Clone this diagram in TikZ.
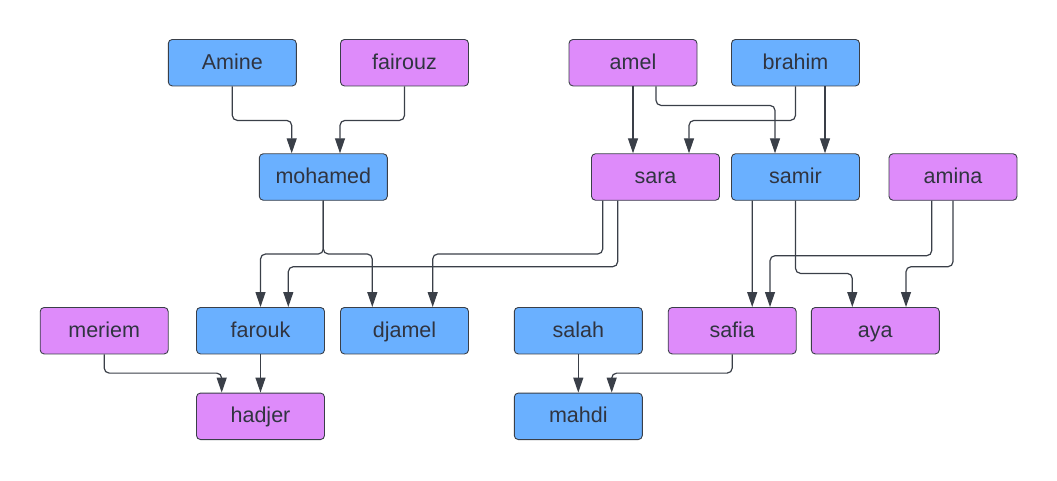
\documentclass[tikz,border=0pt]{standalone}
\usepackage{fontspec}
\setmainfont{Liberation Sans}
\usetikzlibrary{arrows.meta}
\definecolor{boyblue}{RGB}{106,176,255}
\definecolor{girlpink}{RGB}{222,139,250}
\definecolor{edgegray}{RGB}{58,63,72}
\definecolor{namegray}{RGB}{48,52,64}

\begin{document}
\begin{tikzpicture}[
    x=1pt, y=-1pt,
    person/.style={rectangle, rounded corners=4pt, draw=edgegray, line width=0.9pt, minimum width=128pt, minimum height=46.5pt, text height=16pt, text depth=3pt, text=namegray, font=\fontsize{21.5}{24}\selectfont},
    boy/.style={person, fill=boyblue},
    girl/.style={person, fill=girlpink},
    rel/.style={-{Triangle[length=15pt, width=10pt]}, draw=edgegray, line width=1.2pt, rounded corners=5pt}
]
\useasboundingbox (0,0) rectangle (1057,480);

% first generation
\node[boy]  (amine)   at (232.3,62.7) {Amine};
\node[girl] (fairouz) at (404.5,62.7) {fairouz};
\node[girl] (amel)    at (633,62.7)   {amel};
\node[boy]  (brahim)  at (795.5,62.7) {brahim};

% second generation
\node[boy]  (mohamed) at (323.3,177) {mohamed};
\node[girl] (sara)    at (655.5,177) {sara};
\node[boy]  (samir)   at (795.5,177) {samir};
\node[girl] (amina)   at (953,177)   {amina};

% third generation
\node[girl] (meriem) at (104.2,330.7) {meriem};
\node[boy]  (farouk) at (260.5,330.7) {farouk};
\node[boy]  (djamel) at (404.5,330.7) {djamel};
\node[boy]  (salah)  at (578.3,330.7) {salah};
\node[girl] (safia)  at (732.2,330.7) {safia};
\node[girl] (aya)    at (875.3,330.7) {aya};

% fourth generation
\node[girl] (hadjer) at (260.5,416.3) {hadjer};
\node[boy]  (mahdi)  at (578.3,416.3) {mahdi};

% parents -> children
\draw[rel] (amine.south) -- ++(0,34) -| ([xshift=-31.6pt]mohamed.north);
\draw[rel] (fairouz.south) -- ++(0,34) -| ([xshift=16.7pt]mohamed.north);
\draw[rel] (amel.south) -- (amel.south |- sara.north);
\draw[rel] ([xshift=23pt]amel.south) -- ++(0,19) -| ([xshift=-20.5pt]samir.north);
\draw[rel] (brahim.south) -- ++(0,34) -| ([xshift=33.5pt]sara.north);
\draw[rel] ([xshift=29.5pt]brahim.south) -- ([xshift=29.5pt]samir.north);

\draw[rel] (mohamed.south) -- ++(0,53.3) -| (farouk.north);
\draw[rel] (mohamed.south) -- ++(0,53.3) -| ([xshift=-32.2pt]djamel.north);
\draw[rel] ([xshift=-52.8pt]sara.south) -- ++(0,53.3) -| ([xshift=28.2pt]djamel.north);
\draw[rel] ([xshift=-37.8pt]sara.south) -- ++(0,66) -| ([xshift=27.8pt]farouk.north);
\draw[rel] ([xshift=-43.2pt]samir.south) -- ([xshift=20pt]safia.north);
\draw[rel] (samir.south) -- ++(0,72.7) -| ([xshift=-23pt]aya.north);
\draw[rel] ([xshift=-21.3pt]amina.south) -- ++(0,55) -| ([xshift=37.8pt]safia.north);
\draw[rel] (amina.south) -- ++(0,66) -| ([xshift=30.7pt]aya.north);

\draw[rel] (meriem.south) -- ++(0,18.7) -| ([xshift=-38.8pt]hadjer.north);
\draw[rel] (farouk.south) -- (hadjer.north);
\draw[rel] (salah.south) -- (mahdi.north);
\draw[rel] (safia.south) -- ++(0,18.7) -| ([xshift=33.4pt]mahdi.north);

\end{tikzpicture}
\end{document}
